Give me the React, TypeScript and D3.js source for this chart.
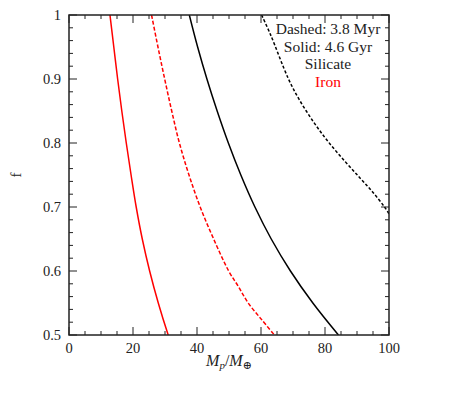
import React, {useRef, useEffect} from 'react'
import * as d3 from 'd3'

// Iron, 4.6 Gyr (solid red)
const ironOldF = [1, 0.95, 0.9, 0.85, 0.8, 0.75, 0.7, 0.65, 0.6, 0.55, 0.5]
const ironOldM = [12.8, 14.0, 15.2, 16.5, 17.9, 19.4, 21.0, 22.9, 25.2, 27.9, 31.0]

// Iron, 3.8 Myr (dashed red)
const ironYoungF = [1, 0.95, 0.9, 0.85, 0.8, 0.75, 0.7, 0.65, 0.6, 0.576, 0.55, 0.524, 0.5]
const ironYoungM = [25.8, 27.8, 29.9, 32.1, 34.5, 37.5, 41.0, 45.2, 49.9, 52.9, 56.0, 60.2, 64.2]

// Silicate, 4.6 Gyr (solid black)
const silOldF = [1, 0.95, 0.9, 0.85, 0.8, 0.75, 0.7, 0.65, 0.6, 0.55, 0.5]
const silOldM = [37.6, 40.2, 43.1, 46.3, 49.8, 53.7, 58.1, 63.2, 69.2, 76.2, 84.2]

// Silicate, 3.8 Myr (dashed black)
const silYoungF = [1, 0.969, 0.901, 0.87, 0.833, 0.802, 0.771, 0.745, 0.724, 0.7, 0.687]
const silYoungM = [60.2, 63.0, 68.5, 71.7, 76.4, 81.0, 86.3, 91.0, 94.8, 98.6, 100.3]

const xMajor = [0, 20, 40, 60, 80, 100]
const yMajor = [0.5, 0.6, 0.7, 0.8, 0.9, 1]
const legendLines = ['Dashed: 3.8 Myr', 'Solid: 4.6 Gyr', 'Silicate', 'Iron']

const W = 458
const H = 395
const left = 69
const right = 389
const top = 15
const bottom = 335
const font = '"Liberation Serif", "DejaVu Serif", serif'

export default function App() {
  const ref = useRef(null)

  useEffect(() => {
    const svg = d3.select(ref.current)
    svg.selectAll('*').remove()

    const x = d3.scaleLinear().domain([0, 100]).range([left, right])
    const y = d3.scaleLinear().domain([0.5, 1]).range([bottom, top])

    svg
      .append('defs')
      .append('clipPath')
      .attr('id', 'plotclip')
      .append('rect')
      .attr('x', left)
      .attr('y', top)
      .attr('width', right - left)
      .attr('height', bottom - top)

    const series = [
      {f: ironOldF, m: ironOldM, color: '#ff0000', dash: null},
      {f: ironYoungF, m: ironYoungM, color: '#ff0000', dash: '4,2'},
      {f: silOldF, m: silOldM, color: '#000000', dash: null},
      {f: silYoungF, m: silYoungM, color: '#000000', dash: '3,2'}
    ]

    const line = d3
      .line()
      .curve(d3.curveCatmullRom)
      .x(d => x(d[0]))
      .y(d => y(d[1]))

    const g = svg.append('g').attr('clip-path', 'url(#plotclip)')
    series.forEach(s => {
      const pts = s.m.map((m, i) => [m, s.f[i]])
      g.append('path')
        .datum(pts)
        .attr('d', line)
        .attr('fill', 'none')
        .attr('stroke', s.color)
        .attr('stroke-width', 1.5)
        .attr('stroke-dasharray', s.dash)
    })

    // ticks, inside on all four sides
    const xTicks = d3.range(0, 101, 5)
    const yTicks = d3.range(0, 26).map(i => 0.5 + i * 0.02)
    const ticks = svg.append('g').attr('stroke', '#222').attr('stroke-width', 1)
    xTicks.forEach(v => {
      const len = v % 20 === 0 ? 8 : 4
      ticks.append('line').attr('x1', x(v)).attr('x2', x(v)).attr('y1', bottom).attr('y2', bottom - len)
      ticks.append('line').attr('x1', x(v)).attr('x2', x(v)).attr('y1', top).attr('y2', top + len)
    })
    yTicks.forEach(v => {
      const major = Math.abs(v * 10 - Math.round(v * 10)) < 1e-6
      const len = major ? 8 : 4
      ticks.append('line').attr('x1', left).attr('x2', left + len).attr('y1', y(v)).attr('y2', y(v))
      ticks.append('line').attr('x1', right).attr('x2', right - len).attr('y1', y(v)).attr('y2', y(v))
    })

    svg
      .append('rect')
      .attr('x', left)
      .attr('y', top)
      .attr('width', right - left)
      .attr('height', bottom - top)
      .attr('fill', 'none')
      .attr('stroke', '#222')
      .attr('stroke-width', 1.5)

    const txt = svg.append('g').attr('font-family', font).attr('font-size', 14.5).attr('fill', '#222')

    xMajor.forEach(v => {
      txt.append('text').attr('x', x(v)).attr('y', 353).attr('text-anchor', 'middle').text(String(v))
    })
    yMajor.forEach(v => {
      txt
        .append('text')
        .attr('x', 61)
        .attr('y', y(v) + 4.5)
        .attr('text-anchor', 'end')
        .text(String(v))
    })

    const xl = txt
      .append('text')
      .attr('x', (left + right) / 2)
      .attr('y', 366)
      .attr('text-anchor', 'middle')
      .attr('font-size', 16)
    xl.append('tspan').attr('font-style', 'italic').text('M')
    xl.append('tspan').attr('font-style', 'italic').attr('font-size', 11).attr('dy', 3).text('p')
    xl.append('tspan').attr('dy', -3).text('/')
    xl.append('tspan').attr('font-style', 'italic').text('M')
    xl.append('tspan').attr('font-size', 11).attr('dy', 3).text('⊕')

    txt
      .append('text')
      .attr('transform', `translate(21,${(top + bottom) / 2}) rotate(-90)`)
      .attr('text-anchor', 'middle')
      .attr('font-size', 15)
      .text('f')

    legendLines.forEach((t, i) => {
      txt
        .append('text')
        .attr('x', 328)
        .attr('y', 34 + i * 17.5)
        .attr('text-anchor', 'middle')
        .attr('font-size', 15.5)
        .attr('fill', t === 'Iron' ? '#ff0000' : '#222')
        .text(t)
    })
  }, [])

  return (
    <div style={{position: 'absolute', left: 0, top: 0}}>
      <svg ref={ref} width={W} height={H} style={{display: 'block'}} />
    </div>
  )
}
